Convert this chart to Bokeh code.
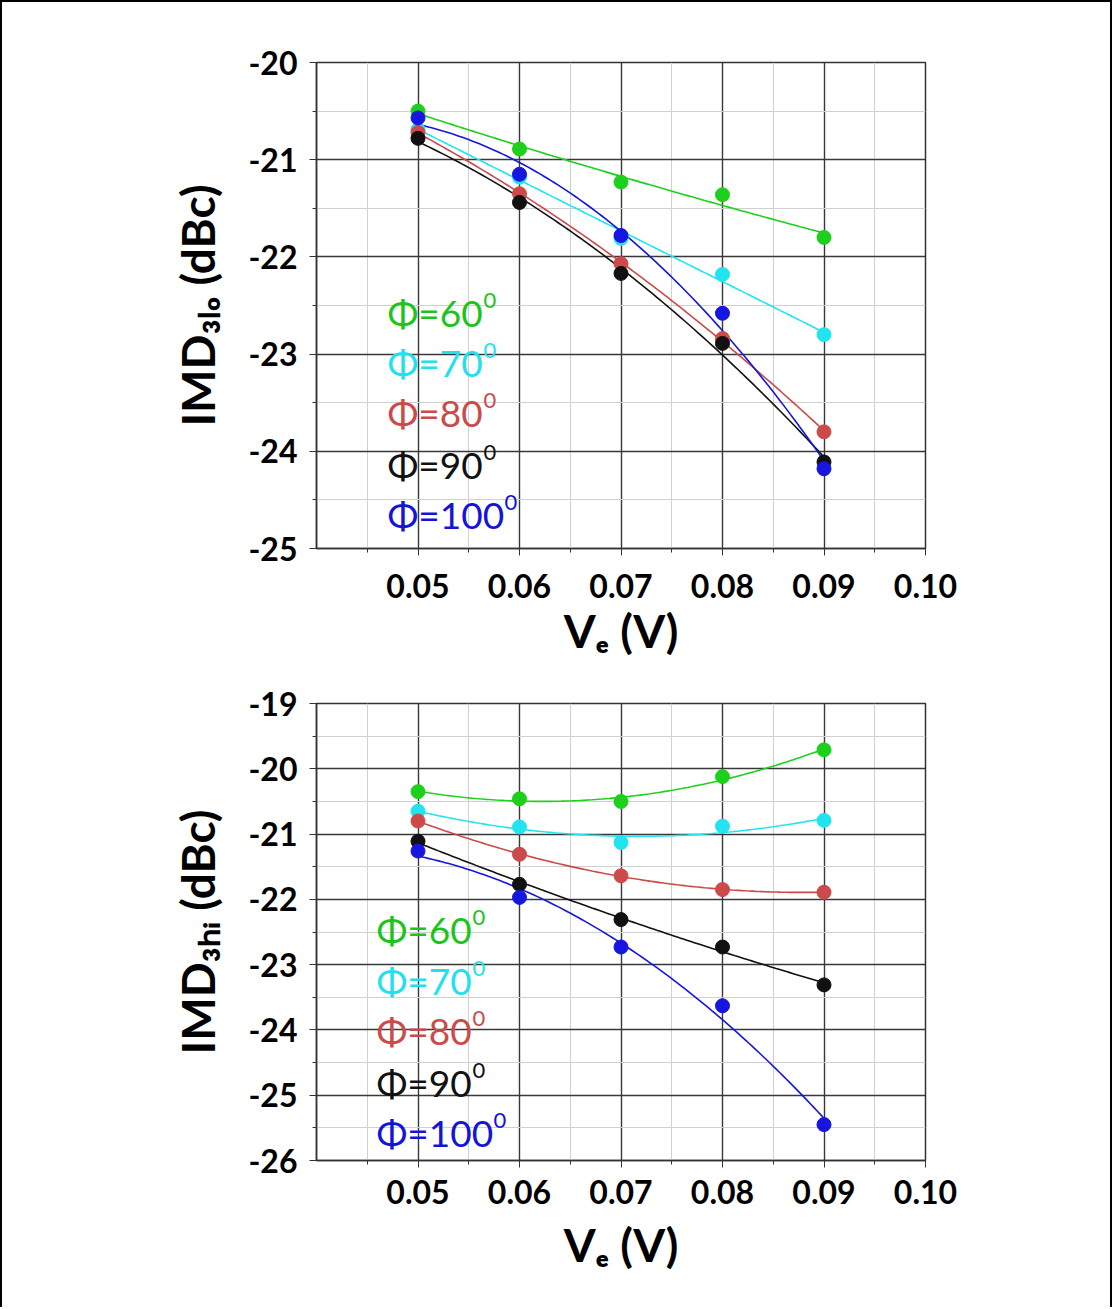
import numpy as np
from bokeh.plotting import figure
from bokeh.models import Range1d, FixedTicker, PrintfTickFormatter, Label
from bokeh.layouts import column
from bokeh.embed import file_html
from bokeh.resources import INLINE

# ---------------- data ----------------
ve = [0.05, 0.06, 0.07, 0.08, 0.09]
phi_names = ["Φ=60", "Φ=70", "Φ=80", "Φ=90", "Φ=100"]

imd3lo_phi60 = [-20.50, -20.89, -21.23, -21.36, -21.80]
imd3lo_phi70 = [-20.69, -21.18, -21.81, -22.18, -22.80]
imd3lo_phi80 = [-20.72, -21.35, -22.07, -22.84, -23.80]
imd3lo_phi90 = [-20.78, -21.44, -22.17, -22.89, -24.11]
imd3lo_phi100 = [-20.57, -21.15, -21.78, -22.58, -24.18]

imd3hi_phi60 = [-20.35, -20.46, -20.50, -20.12, -19.71]
imd3hi_phi70 = [-20.65, -20.89, -21.13, -20.88, -20.79]
imd3hi_phi80 = [-20.80, -21.31, -21.64, -21.85, -21.89]
imd3hi_phi90 = [-21.11, -21.77, -22.31, -22.73, -23.31]
imd3hi_phi100 = [-21.26, -21.97, -22.73, -23.63, -25.45]

x_ticks = [0.05, 0.06, 0.07, 0.08, 0.09, 0.10]
y_ticks_lo = [-25, -24, -23, -22, -21, -20]
y_ticks_hi = [-26, -25, -24, -23, -22, -21, -20, -19]

# ---------------- style ----------------
line_colors = ["#1cd01c", "#22e4f0", "#cc4a4a", "#111111", "#1616e0"]
text_colors = ["#1cc41c", "#22e0ee", "#cc4a4a", "#111111", "#1414d8"]
FONT = "Lato"

X0, Y0 = 2, 2                 # page position of the figures (inside the border)
FIG_W = 1108
FRAME_L, FRAME_R = 316, 925   # page px


def make_fig(height, top_border, bottom_border, yr, yticks, ylabel):
    left = FRAME_L - X0
    p = figure(width=FIG_W, height=height, output_backend="svg", toolbar_location=None,
               x_range=Range1d(0.04, 0.10), y_range=Range1d(*yr),
               min_border_left=left, min_border_right=FIG_W - left - (FRAME_R - FRAME_L),
               min_border_top=top_border, min_border_bottom=bottom_border)
    p.background_fill_color = "white"
    p.border_fill_color = "white"
    p.outline_line_color = "#333333"
    p.outline_line_width = 1.5
    xminor = [round(0.045 + 0.01 * i, 3) for i in range(6)]
    yminor = [t + 0.5 for t in yticks[:-1]]
    p.xaxis.ticker = FixedTicker(ticks=x_ticks, minor_ticks=xminor)
    p.yaxis.ticker = FixedTicker(ticks=yticks, minor_ticks=yminor)
    p.xaxis.formatter = PrintfTickFormatter(format="%.2f")
    p.yaxis.formatter = PrintfTickFormatter(format="%.0f")
    p.xaxis.axis_label = "Vₑ (V)"
    p.yaxis.axis_label = ylabel
    for ax in (p.xaxis, p.yaxis):
        ax.axis_line_color = "#333333"
        ax.axis_line_width = 1.5
        ax.major_tick_line_color = "#333333"
        ax.minor_tick_line_color = "#333333"
        ax.major_tick_out = 7
        ax.major_tick_in = 0
        ax.minor_tick_out = 4
        ax.minor_tick_in = 0
        ax.major_label_text_font = FONT
        ax.major_label_text_font_style = "bold"
        ax.major_label_text_font_size = "32px"
        ax.major_label_text_color = "black"
        ax.axis_label_text_font = FONT
        ax.axis_label_text_font_style = "bold"
        ax.axis_label_text_font_size = "46px"
        ax.axis_label_text_color = "black"
    p.yaxis.major_label_standoff = 12
    p.yaxis.axis_label_standoff = 20
    for g in (p.xgrid, p.ygrid):
        g.grid_line_color = "#383838"
        g.grid_line_width = 1.4
        g.minor_grid_line_color = "#d0d0d0"
        g.minor_grid_line_width = 1
    return p


def add_series(p, series):
    xs_fit = np.linspace(ve[0], ve[-1], 120)
    for vals, col in zip(series, line_colors):
        coef = np.polyfit(ve, vals, 2)
        p.line(xs_fit, np.polyval(coef, xs_fit), line_color=col, line_width=1.6)
    for vals, col in zip(series, line_colors):
        p.scatter(ve, vals, marker="circle", size=14, fill_color=col, line_color=col)


def labeler(p, frame_top, frame_bot, yr):
    def fx(px):
        return 0.04 + (px - FRAME_L) / (FRAME_R - FRAME_L) * 0.06

    def fy(py):
        return yr[1] - (py - frame_top) / (frame_bot - frame_top) * (yr[1] - yr[0])

    def put(px, py, text, size, color="black", style="normal"):
        p.add_layout(Label(x=fx(px), y=fy(py), text=text, text_font=FONT,
                           text_font_size=f"{size}px", text_font_style=style,
                           text_color=color, text_align="left",
                           text_baseline="alphabetic"))
    return put


LEG_SIZE = 37
NAME_W = {"Φ=60": 95, "Φ=70": 95, "Φ=80": 95, "Φ=90": 95, "Φ=100": 116}


def add_legend(put, left, baselines):
    for name, col, by in zip(phi_names, text_colors, baselines):
        put(left, by, name, LEG_SIZE, color=col)
        put(left + NAME_W[name] + 1, by - 12, "0", 22, color=col)


# ---------------- top panel ----------------
yr1 = (-25, -20)
TOP_H = 668
p1 = make_fig(TOP_H, 62 - Y0, Y0 + TOP_H - 548, yr1, y_ticks_lo, "IMD₃ₗₒ (dBc)")
p1.xaxis.major_label_standoff = 18
p1.xaxis.axis_label_standoff = 2
add_series(p1, [imd3lo_phi60, imd3lo_phi70, imd3lo_phi80, imd3lo_phi90, imd3lo_phi100])
put1 = labeler(p1, 62, 548, yr1)
add_legend(put1, 387, [312, 362, 412, 464, 514])

# ---------------- bottom panel ----------------
yr2 = (-26, -19)
BOT_H = 637
top2 = Y0 + TOP_H
p2 = make_fig(BOT_H, 703 - top2, top2 + BOT_H - 1160, yr2, y_ticks_hi, "IMD₃ₕᵢ (dBc)")
p2.xaxis.major_label_standoff = 12
p2.xaxis.axis_label_standoff = 10
add_series(p2, [imd3hi_phi60, imd3hi_phi70, imd3hi_phi80, imd3hi_phi90, imd3hi_phi100])
put2 = labeler(p2, 703, 1160, yr2)
add_legend(put2, 376, [929, 980, 1030, 1082, 1132])

layout = column(p1, p2, spacing=0,
                styles={"border-top": "2px solid black", "border-left": "2px solid black",
                        "border-right": "2px solid black"})

open("out.html", "w").write(file_html(layout, INLINE))
